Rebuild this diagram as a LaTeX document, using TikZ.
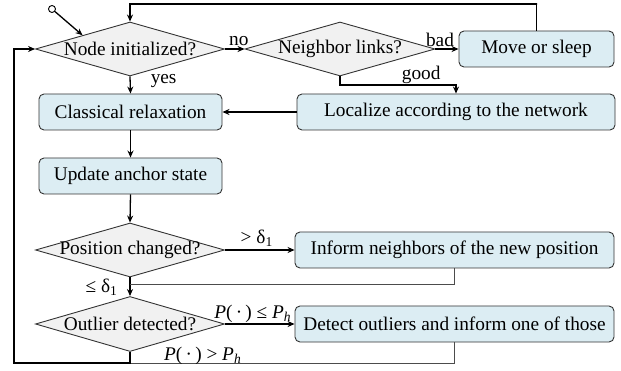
\documentclass[tikz,border=0pt]{standalone}
\usepackage{fontspec}
\setmainfont{Liberation Serif}
\usetikzlibrary{shapes.geometric,arrows.meta}
\definecolor{boxfill}{HTML}{DCEDF3}
\definecolor{dfill}{HTML}{F1F1F1}
\definecolor{edge}{HTML}{333333}
\begin{document}
\begin{tikzpicture}[x=1pt,y=-1pt,
  font=\fontsize{19.3}{22}\selectfont,
  every node/.style={inner sep=0pt},
  procbox/.style={draw=edge, fill=boxfill, rounded corners=5pt, line width=0.9pt, minimum height=36pt},
  decide/.style={diamond, draw=edge, fill=dfill, line width=0.9pt, minimum width=189pt, minimum height=54pt},
  arr/.style={line width=1.3pt, -{Stealth[length=7pt,width=6pt]}},
  thinln/.style={line width=0.9pt, draw=black!70},
  lbl/.style={font=\fontsize{19.3}{22}\selectfont}]
\useasboundingbox (0,0) rectangle (621,371);
% nodes
\node[decide] (ni) at (130,49) {\makebox[0pt]{Node initialized?}};
\node[decide, minimum width=190pt] (nl) at (340,49) {\makebox[0pt]{Neighbor links?}};
\node[procbox, minimum width=155pt] (ms) at (536.5,49) {Move or sleep};
\node[procbox, minimum width=318pt] (loc) at (456,112) {Localize according to the network};
\node[procbox, minimum width=183pt] (cr) at (130.5,112) {Classical relaxation};
\node[procbox, minimum width=183pt] (ua) at (130.5,176) {Update anchor state};
\node[decide] (pc) at (130,250) {\makebox[0pt]{Position changed?}};
\node[procbox, minimum width=319pt] (inf) at (454.5,250) {Inform neighbors of the new position};
\node[decide, minimum height=55pt] (od) at (130,324) {\makebox[0pt]{Outlier detected?}};
\node[procbox, minimum width=319pt] (det) at (454.5,324) {Detect outliers and inform one of those};
% start
\node[circle, draw=black, fill=white, line width=0.9pt, minimum size=7pt] (st) at (52,9) {};
\draw[arr] (st) -- (ni.north west);
% coordinates
\coordinate (top) at (537,4);
\coordinate (gd) at (340,85);
\coordinate (j1) at (130,284);
\coordinate (j2) at (130,363);
\coordinate (lft) at (14,363);
% connectors
\draw[arr] (ni.east) -- node[lbl, above=3pt, xshift=4pt] {no} (nl.west);
\draw[arr] (ni.south) -- node[lbl, right=20pt, pos=0.25] {yes} (cr.north);
\draw[arr] (nl.east) -- node[lbl, above=2pt, xshift=-7pt] {bad} (ms.west);
\draw[arr] (nl.south) -- (gd) -| node[lbl, pos=0.35, above=1pt] {good} (loc.north);
\draw[arr] (ms.north) |- (top) -| (ni.north);
\draw[arr] (loc.west) -- (cr.east);
\draw[arr] (cr.south) -- (ua.north);
\draw[arr] (ua.south) -- (pc.north);
\draw[arr] (pc.east) -- node[lbl, above=3pt, xshift=-3pt] {> δ\textsubscript{1}} (inf.west);
\draw[arr] (pc.south) -- node[lbl, left=12pt, pos=0.55] {≤ δ\textsubscript{1}} (od.north);
\draw[thinln] (inf.south) |- (j1);
\draw[arr] (od.east) -- node[lbl, above=1pt, xshift=-7pt] {\textit{P}(\,·\,) ≤ \textit{P}\textsubscript{\textit{h}}} (det.west);
\draw[thinln] (det.south) |- (j2);
\draw[arr] (od.south) -- (j2) -- (lft) |- (ni.west);
\node[lbl, anchor=west] (pl) at (164,356) {\textit{P}(\,·\,) > \textit{P}\textsubscript{\textit{h}}};
\end{tikzpicture}
\end{document}
